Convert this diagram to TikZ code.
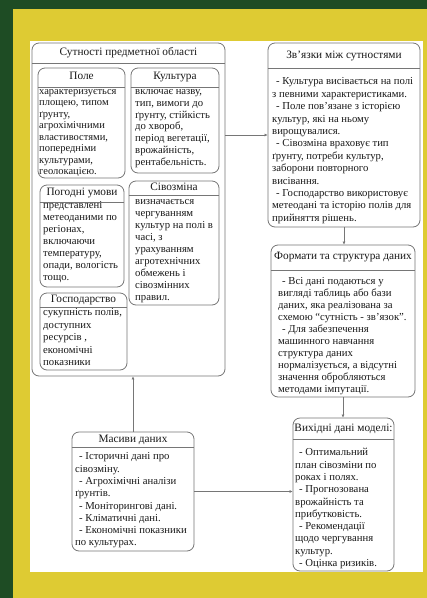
\documentclass[tikz,border=0pt]{standalone}
\usepackage{fontspec}
\setmainfont{Liberation Serif}
\usetikzlibrary{arrows.meta}
\definecolor{bggreen}{RGB}{30,76,36}
\definecolor{bgyellow}{RGB}{222,203,51}
\definecolor{boxline}{RGB}{118,118,118}

\begin{document}
\begin{tikzpicture}[x=1pt, y=-1pt]
  \tikzstyle{box}=[draw=boxline, line width=0.8pt, rounded corners=7pt, fill=white, inner sep=0pt]
  \tikzstyle{head}=[inner sep=0pt, text height=7pt, text depth=2pt, font=\fontsize{11.3}{12}\selectfont, text=black!90]
  \tikzstyle{body}=[anchor=north west, inner sep=0pt, align=left, font=\fontsize{10.7}{12}\selectfont, text=black!90]
  \tikzstyle{sep}=[draw=boxline, line width=0.8pt]
  \tikzstyle{link}=[-{Latex[length=3pt, width=3pt]}, color=boxline, line width=0.8pt]

  \useasboundingbox (0,0) rectangle (427,598);
  \fill[bggreen]  (0,0)   rectangle (427,598);
  \fill[bgyellow] (13,9)  rectangle (427,598);
  \fill[white]    (30,41) rectangle (423,572);

  % entities
  \node[box, minimum width=193, minimum height=333] (sut)  at (128.5, 209.5) {};
  \node[box, minimum width=87,  minimum height=110] (pole) at (81.5,  123)   {};
  \node[box, minimum width=88,  minimum height=105] (kult) at (175,   120.5) {};
  \node[box, minimum width=84,  minimum height=102] (pog)  at (82,    236)   {};
  \node[box, minimum width=90,  minimum height=124] (siv)  at (174,   243)   {};
  \node[box, minimum width=87,  minimum height=77]  (gosp) at (83.5,  331.5) {};

  % right column and data
  \node[box, minimum width=152, minimum height=184] (zv)  at (344,   135)   {};
  \node[box, minimum width=144, minimum height=152] (fmt) at (343,   321)   {};
  \node[box, minimum width=101, minimum height=153] (vyh) at (343.5, 494.5) {};
  \node[box, minimum width=122, minimum height=119] (mas) at (133,   491.5) {};

  \draw[sep] (sut.west  |- 0,63)  -- (sut.east  |- 0,63);
  \draw[sep] (pole.west |- 0,87)  -- (pole.east |- 0,87);
  \draw[sep] (kult.west |- 0,87)  -- (kult.east |- 0,87);
  \draw[sep] (pog.west  |- 0,202) -- (pog.east  |- 0,202);
  \draw[sep] (siv.west  |- 0,195) -- (siv.east  |- 0,195);
  \draw[sep] (gosp.west |- 0,307) -- (gosp.east |- 0,307);
  \draw[sep] (zv.west   |- 0,68)  -- (zv.east   |- 0,68);
  \draw[sep] (fmt.west  |- 0,270) -- (fmt.east  |- 0,270);
  \draw[sep] (vyh.west  |- 0,439) -- (vyh.east  |- 0,439);
  \draw[sep] (mas.west  |- 0,447) -- (mas.east  |- 0,447);

  \node[head] (sutT)  at (128.5, 53)    {Сутності предметної області};
  \node[head] (poleT) at (81.5,  77)    {Поле};
  \node[head] (kultT) at (175,   77)    {Культура};
  \node[head] (pogT)  at (82,    193)   {Погодні умови};
  \node[head] (sivT)  at (174,   188)   {Сівозміна};
  \node[head] (gospT) at (83.5,  300)   {Господарство};
  \node[head] (zvT)   at (344,   56)    {Зв'язки між сутностями};
  \node[head] (fmtT)  at (343,   257)   {Формати та структура даних};
  \node[head] (vyhT)  at (343.5, 428.5) {Вихідні дані моделі:};
  \node[head] (masT)  at (133,   439.5) {Масиви даних};

  \node[body, font=\fontsize{10.5}{11.5}\selectfont] (poleB) at (39, 86) {\strut характеризується\\площею, типом\\ґрунту,\\агрохімічними\\властивостями,\\попередніми\\культурами,\\геолокацією.};
  \node[body, font=\fontsize{10.7}{11.8}\selectfont] (kultB) at (135, 86) {\strut включає назву,\\тип, вимоги до\\ґрунту, стійкість\\до хвороб,\\період вегетації,\\врожайність,\\рентабельність.};
  \node[body] (pogB)  at (43, 200) {\strut представлені\\метеоданими по\\регіонах,\\включаючи\\температуру,\\опади, вологість\\тощо.};
  \node[body] (sivB)  at (135, 196) {\strut визначається\\чергуванням\\культур на полі в\\часі, з\\урахуванням\\агротехнічних\\обмежень і\\сівозмінних\\правил.};
  \node[body, font=\fontsize{10.7}{12.5}\selectfont] (gospB) at (43, 307) {\strut сукупність полів,\\доступних\\ресурсів ,\\економічні\\показники};

  \node[body, font=\fontsize{10.7}{12.4}\selectfont] (zvB) at (272, 76)
    {\strut\hspace*{4pt}- Культура висівається на полі\\з певними характеристиками.\\\hspace*{4pt}- Поле пов'язане з історією\\культур, які на ньому\\вирощувалися.\\\hspace*{4pt}- Сівозміна враховує тип\\ґрунту, потреби культур,\\заборони повторного\\висівання.\\\hspace*{4pt}- Господарство використовує\\метеодані та історію полів для\\прийняття рішень.};
  \node[body] (fmtB) at (278, 276)
    {\strut\hspace*{4pt}- Всі дані подаються у\\вигляді таблиць або бази\\даних, яка реалізована за\\схемою “сутність - зв’язок”.\\\hspace*{4pt}- Для забезпечення\\машинного навчання\\структура даних\\нормалізується, а відсутні\\значення обробляються\\методами імпутації.};
  \node[body, font=\fontsize{10.7}{12.3}\selectfont] (vyhB) at (295, 447)
    {\strut\hspace*{4pt}- Оптимальний\\план сівозміни по\\роках і полях.\\\hspace*{4pt}- Прогнозована\\врожайність та\\прибутковість.\\\hspace*{4pt}- Рекомендації\\щодо чергування\\культур.\\\hspace*{4pt}- Оцінка ризиків.};
  \node[body, font=\fontsize{10.7}{12.3}\selectfont] (masB) at (75, 451)
    {\strut\hspace*{4pt}- Історичні дані про\\сівозміну.\\\hspace*{4pt}- Агрохімічні аналізи\\ґрунтів.\\\hspace*{4pt}- Моніторингові дані.\\\hspace*{4pt}- Кліматичні дані.\\\hspace*{4pt}- Економічні показники\\по культурах.};

  \path[link] (sut.east |- zv.west) edge (zv.west);
  \path[link] (zv.south) edge (zv.south |- fmt.north);
  \path[link] (fmt.south) edge (fmt.south |- vyh.north);
  \path[link] (mas.north) edge (mas.north |- sut.south);
  \path[link] (mas.east) edge (mas.east -| vyh.west);
\end{tikzpicture}
\end{document}
